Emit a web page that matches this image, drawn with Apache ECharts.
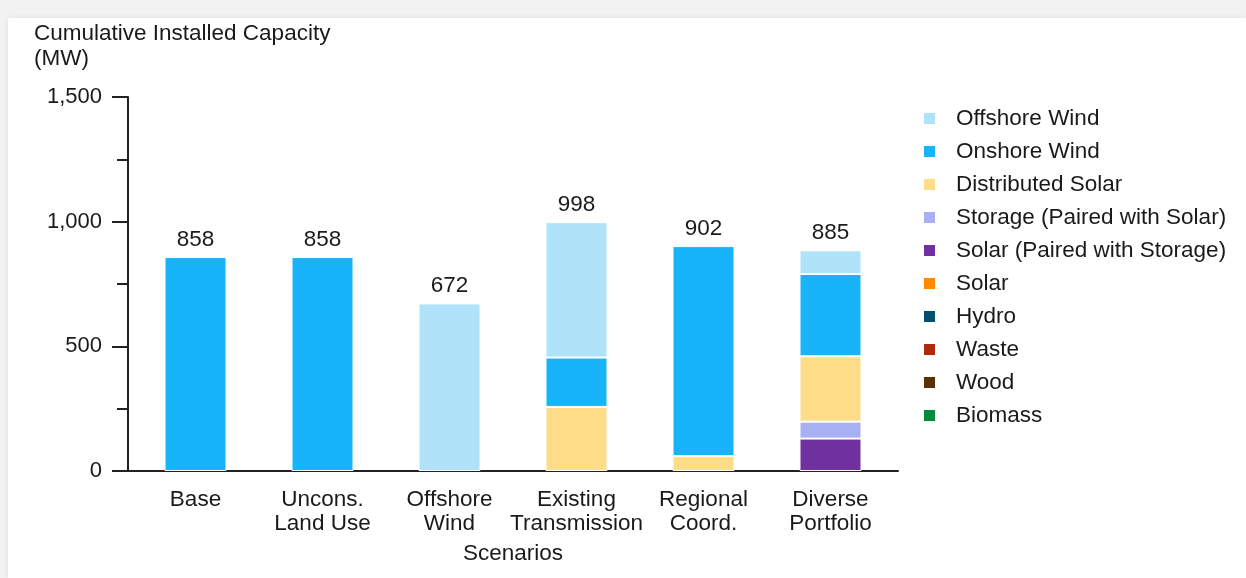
<!DOCTYPE html>
<html>
<head>
<meta charset="utf-8">
<script src="https://cdn.jsdelivr.net/npm/echarts@6/dist/echarts.min.js"></script>
<style>
  html, body { margin: 0; padding: 0; width: 1246px; height: 578px; overflow: hidden; background: #f2f2f2; }
  #card { position: absolute; left: 8px; top: 18px; width: 1238px; height: 560px; background: #fff; box-shadow: 0 0 6px rgba(0,0,0,0.08); }
  #chart { width: 1238px; height: 560px; }
</style>
</head>
<body>
<div id="card"><div id="chart"></div></div>
<script>
const categories = ['Base', 'Uncons.\nLand Use', 'Offshore\nWind', 'Existing\nTransmission', 'Regional\nCoord.', 'Diverse\nPortfolio'];
const totals = [858, 858, 672, 998, 902, 885];

// stacked from bottom to top
const biomass = [0, 0, 0, 0, 0, 0];
const wood = [0, 0, 0, 0, 0, 0];
const waste = [0, 0, 0, 0, 0, 0];
const hydro = [0, 0, 0, 0, 0, 0];
const solar = [0, 0, 0, 0, 0, 0];
const solarPaired = [0, 0, 0, 0, 0, 130];
const storagePaired = [0, 0, 0, 0, 0, 68];
const distributedSolar = [0, 0, 0, 257, 60, 262];
const onshoreWind = [858, 858, 0, 198, 842, 330];
const offshoreWind = [0, 0, 672, 543, 0, 95];

const yTicks = [0, 500, 1000, 1500];

const seriesDefs = [
  ['Biomass', biomass, '#008a3e'],
  ['Wood', wood, '#5b3000'],
  ['Waste', waste, '#ae2a0c'],
  ['Hydro', hydro, '#02506e'],
  ['Solar', solar, '#ff8a00'],
  ['Solar (Paired with Storage)', solarPaired, '#70309f'],
  ['Storage (Paired with Solar)', storagePaired, '#a8b0f4'],
  ['Distributed Solar', distributedSolar, '#ffdc87'],
  ['Onshore Wind', onshoreWind, '#17b4f9'],
  ['Offshore Wind', offshoreWind, '#b0e3fa']
];

const font = '"Liberation Sans", Arial, Helvetica, sans-serif';
const FS = 22.5;
const BW = 62;
const yMin = yTicks[0], yMax = yTicks[yTicks.length - 1];

const series = seriesDefs.map(([name, data, color]) => ({
  name: name,
  type: 'bar',
  stack: 'total',
  barWidth: BW,
  xAxisIndex: 0, yAxisIndex: 0,
  data: data.map(v => (v ? v : null)),
  itemStyle: { color: color, borderColor: '#ffffff', borderWidth: 1 },
  emphasis: { disabled: true }
}));

series.push({
  name: 'Total',
  type: 'bar',
  barWidth: BW,
  barGap: '-100%',
  xAxisIndex: 0, yAxisIndex: 0,
  data: totals,
  itemStyle: { color: 'rgba(0,0,0,0)' },
  label: { show: true, position: 'top', distance: 6, color: '#1a1a1a', fontSize: FS, fontFamily: font },
  emphasis: { disabled: true },
  z: 1
});

const chart = echarts.init(document.getElementById('chart'), null, { renderer: 'canvas' });
chart.setOption({
  animation: false,
  textStyle: { fontFamily: font },
  title: {
    text: 'Cumulative Installed Capacity\n(MW)',
    left: 26, top: 3, padding: 0,
    textStyle: { fontSize: FS, fontWeight: 'normal', color: '#1a1a1a', lineHeight: 25, fontFamily: font }
  },
  grid: [
    { left: 124, top: 79, width: 762, height: 374, containLabel: false },
    { left: 120, top: 79, width: 770, height: 374, containLabel: false }
  ],
  legend: {
    orient: 'vertical',
    left: 909, top: 84,
    itemWidth: 13, itemHeight: 13, itemGap: 10,
    icon: 'rect',
    data: seriesDefs.map(d => d[0]).reverse(),
    textStyle: { fontSize: FS, color: '#1a1a1a', padding: [0, 0, 0, 15], fontFamily: font },
    selectedMode: false
  },
  xAxis: [
    {
      type: 'category',
      gridIndex: 0,
      data: categories,
      name: 'Scenarios',
      nameLocation: 'middle',
      nameGap: 71,
      nameTextStyle: { fontSize: FS, color: '#1a1a1a', fontFamily: font, verticalAlign: 'top' },
      axisLine: { show: false },
      axisTick: { show: false },
      axisLabel: { fontSize: FS, color: '#1a1a1a', margin: 17, lineHeight: 24, fontFamily: font, interval: 0 }
    },
    {
      type: 'value',
      gridIndex: 1,
      min: 0, max: 1,
      axisLine: { show: true, lineStyle: { color: '#222', width: 2 } },
      axisTick: { show: false },
      axisLabel: { show: false },
      splitLine: { show: false }
    }
  ],
  yAxis: [
    {
      type: 'value',
      gridIndex: 0,
      min: yMin, max: yMax, interval: 500,
      axisLine: { show: false },
      axisTick: { show: false },
      axisLabel: { show: false },
      splitLine: { show: false }
    },
    {
      type: 'value',
      gridIndex: 1,
      min: yMin, max: yMax, interval: 500,
      axisLine: { show: true, lineStyle: { color: '#222', width: 2 } },
      axisTick: { show: true, length: 16, lineStyle: { color: '#222', width: 2 } },
      minorTick: { show: true, splitNumber: 2, length: 11, lineStyle: { color: '#222', width: 2 } },
      splitLine: { show: false },
      axisLabel: {
        fontSize: 22, color: '#1a1a1a', margin: 26, fontFamily: font,
        formatter: v => v.toLocaleString('en-US')
      }
    }
  ],
  series: series
});
</script>
</body>
</html>
